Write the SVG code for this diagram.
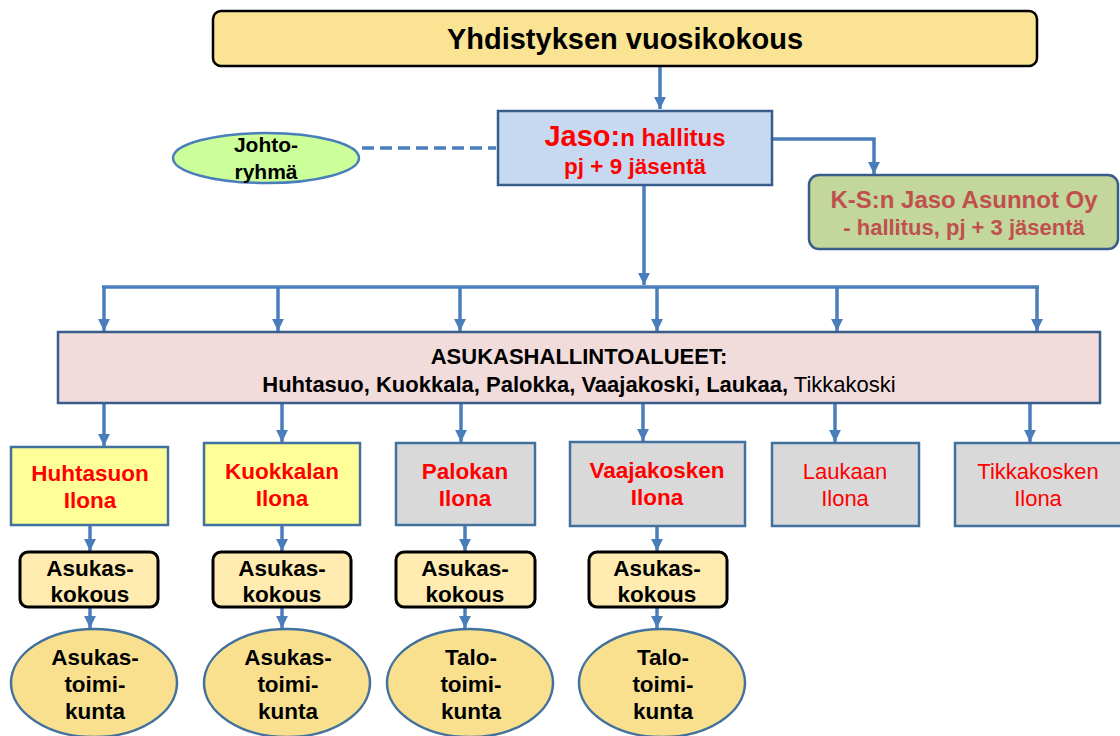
<svg xmlns="http://www.w3.org/2000/svg" width="1120" height="736" viewBox="0 0 1120 736">
<defs>
<marker id="ah" viewBox="0 0 10 10" refX="10" refY="5" markerWidth="3.4" markerHeight="3.4" markerUnits="strokeWidth" orient="auto">
<path d="M0,0 L10,5 L0,10 z" fill="#4A7EBB"/>
</marker>
<style>
text{font-family:"Liberation Sans",Arial,sans-serif;text-anchor:middle}
.b{font-weight:bold}
.red{fill:#FF0000}
.conn{stroke:#4A7EBB;stroke-width:3.5;fill:none}
.arr{stroke:#4A7EBB;stroke-width:3.5;fill:none;marker-end:url(#ah)}
.ilona{stroke:#41719C;stroke-width:2.5}
.kok{fill:#FFEBAF;stroke:#000;stroke-width:3}
.ell{fill:#F9E08F;stroke:#41719C;stroke-width:2.5}
.t20{font-size:22.5px}
</style>
</defs>
<rect width="1120" height="736" fill="#fff"/>

<g id="connectors">
<line class="arr" x1="660" y1="66" x2="660" y2="109"/>
<line x1="362" y1="148" x2="496" y2="148" stroke="#4A7EBB" stroke-width="3.5" stroke-dasharray="12 6"/>
<polyline class="arr" points="773,139 874,139 874,174"/>
<line class="arr" x1="644" y1="185" x2="644" y2="285"/>
<line class="conn" x1="102" y1="287" x2="1039" y2="287"/>
<line class="arr" x1="104" y1="287" x2="104" y2="331"/>
<line class="arr" x1="278" y1="287" x2="278" y2="331"/>
<line class="arr" x1="460" y1="287" x2="460" y2="331"/>
<line class="arr" x1="657" y1="287" x2="657" y2="331"/>
<line class="arr" x1="837" y1="287" x2="837" y2="331"/>
<line class="arr" x1="1037" y1="287" x2="1037" y2="331"/>
<line class="arr" x1="104" y1="404" x2="104" y2="446"/>
<line class="arr" x1="282" y1="404" x2="282" y2="442"/>
<line class="arr" x1="461" y1="404" x2="461" y2="442"/>
<line class="arr" x1="643" y1="404" x2="643" y2="441"/>
<line class="arr" x1="835" y1="404" x2="835" y2="442"/>
<line class="arr" x1="1030" y1="404" x2="1030" y2="442"/>
<line class="arr" x1="90" y1="526" x2="90" y2="551"/>
<line class="arr" x1="282" y1="526" x2="282" y2="551"/>
<line class="arr" x1="465" y1="526" x2="465" y2="551"/>
<line class="arr" x1="657" y1="527" x2="657" y2="551"/>
<line class="arr" x1="90" y1="608" x2="90" y2="628"/>
<line class="arr" x1="282" y1="608" x2="282" y2="628"/>
<line class="arr" x1="465" y1="608" x2="465" y2="628"/>
<line class="arr" x1="657" y1="608" x2="657" y2="628"/>
</g>

<g id="vuosikokous">
<rect x="213" y="11" width="824" height="55" rx="8" fill="#FAE393" stroke="#000" stroke-width="2.5"/>
<text x="625" y="49" class="b" font-size="29">Yhdistyksen vuosikokous</text>
</g>

<g id="hallitus">
<rect x="498" y="111" width="274" height="74" fill="#C6D9F1" stroke="#385D8A" stroke-width="2.5"/>
<text x="635" y="146" class="b red"><tspan font-size="29">Jaso:</tspan><tspan font-size="24">n hallitus</tspan></text>
<text x="635" y="174" class="b red" font-size="22.5">pj + 9 jäsentä</text>
</g>

<g id="johtoryhma">
<ellipse cx="266" cy="158" rx="93" ry="25" fill="#CCFF99" stroke="#4A7EBB" stroke-width="2.5"/>
<text x="266" y="152" class="b" font-size="21">Johto-</text>
<text x="266" y="179" class="b" font-size="21">ryhmä</text>
</g>

<g id="asunnot">
<rect x="809" y="175" width="309" height="74" rx="10" fill="#C3D69B" stroke="#385D8A" stroke-width="2.5"/>
<text x="964" y="208" class="b" font-size="24" fill="#C0504D">K-S:n Jaso Asunnot Oy</text>
<text x="964" y="235" class="b" font-size="22" fill="#C0504D">- hallitus, pj + 3 jäsentä</text>
</g>

<g id="alueet">
<rect x="58" y="332" width="1042" height="71" fill="#F2DCDB" stroke="#385D8A" stroke-width="2.5"/>
<text x="579" y="364" class="b" font-size="22">ASUKASHALLINTOALUEET:</text>
<text x="579" y="392" font-size="22"><tspan font-weight="bold">Huhtasuo, Kuokkala, Palokka, Vaajakoski, Laukaa,</tspan> Tikkakoski</text>
</g>

<g id="huhtasuon">
<rect x="11" y="447" width="157" height="78" fill="#FFFF99" class="ilona"/>
<text x="90" y="481" class="b red t20">Huhtasuon</text>
<text x="90" y="508" class="b red t20">Ilona</text>
</g>
<g id="kuokkalan">
<rect x="204" y="443" width="156" height="82" fill="#FFFF99" class="ilona"/>
<text x="282" y="479" class="b red t20">Kuokkalan</text>
<text x="282" y="506" class="b red t20">Ilona</text>
</g>
<g id="palokan">
<rect x="396" y="443" width="139" height="82" fill="#D9D9D9" class="ilona"/>
<text x="465" y="479" class="b red t20">Palokan</text>
<text x="465" y="506" class="b red t20">Ilona</text>
</g>
<g id="vaajakosken">
<rect x="570" y="442" width="175" height="84" fill="#D9D9D9" class="ilona"/>
<text x="657" y="478" class="b red t20">Vaajakosken</text>
<text x="657" y="505" class="b red t20">Ilona</text>
</g>
<g id="laukaan">
<rect x="772" y="443" width="147" height="83" fill="#D9D9D9" class="ilona"/>
<text x="845" y="479" class="red" font-size="22">Laukaan</text>
<text x="845" y="506" class="red" font-size="22">Ilona</text>
</g>
<g id="tikkakosken">
<rect x="955" y="443" width="170" height="83" fill="#D9D9D9" class="ilona"/>
<text x="1038" y="479" class="red" font-size="22">Tikkakosken</text>
<text x="1038" y="506" class="red" font-size="22">Ilona</text>
</g>

<g id="kokous1">
<rect x="20" y="552" width="138" height="55" rx="8" class="kok"/>
<text x="90" y="576" class="b t20">Asukas-</text>
<text x="90" y="602" class="b t20">kokous</text>
</g>
<g id="kokous2">
<rect x="213" y="552" width="138" height="55" rx="8" class="kok"/>
<text x="282" y="576" class="b t20">Asukas-</text>
<text x="282" y="602" class="b t20">kokous</text>
</g>
<g id="kokous3">
<rect x="396" y="552" width="139" height="55" rx="8" class="kok"/>
<text x="465" y="576" class="b t20">Asukas-</text>
<text x="465" y="602" class="b t20">kokous</text>
</g>
<g id="kokous4">
<rect x="589" y="552" width="138" height="55" rx="8" class="kok"/>
<text x="657" y="576" class="b t20">Asukas-</text>
<text x="657" y="602" class="b t20">kokous</text>
</g>

<g id="toimikunta1">
<ellipse cx="94" cy="683" rx="83" ry="54" class="ell"/>
<text x="95" y="665" class="b t20">Asukas-</text>
<text x="95" y="692" class="b t20">toimi-</text>
<text x="95" y="719" class="b t20">kunta</text>
</g>
<g id="toimikunta2">
<ellipse cx="287" cy="683" rx="83" ry="54" class="ell"/>
<text x="288" y="665" class="b t20">Asukas-</text>
<text x="288" y="692" class="b t20">toimi-</text>
<text x="288" y="719" class="b t20">kunta</text>
</g>
<g id="toimikunta3">
<ellipse cx="470" cy="683" rx="83" ry="54" class="ell"/>
<text x="471" y="665" class="b t20">Talo-</text>
<text x="471" y="692" class="b t20">toimi-</text>
<text x="471" y="719" class="b t20">kunta</text>
</g>
<g id="toimikunta4">
<ellipse cx="662" cy="683" rx="83" ry="54" class="ell"/>
<text x="663" y="665" class="b t20">Talo-</text>
<text x="663" y="692" class="b t20">toimi-</text>
<text x="663" y="719" class="b t20">kunta</text>
</g>
</svg>
